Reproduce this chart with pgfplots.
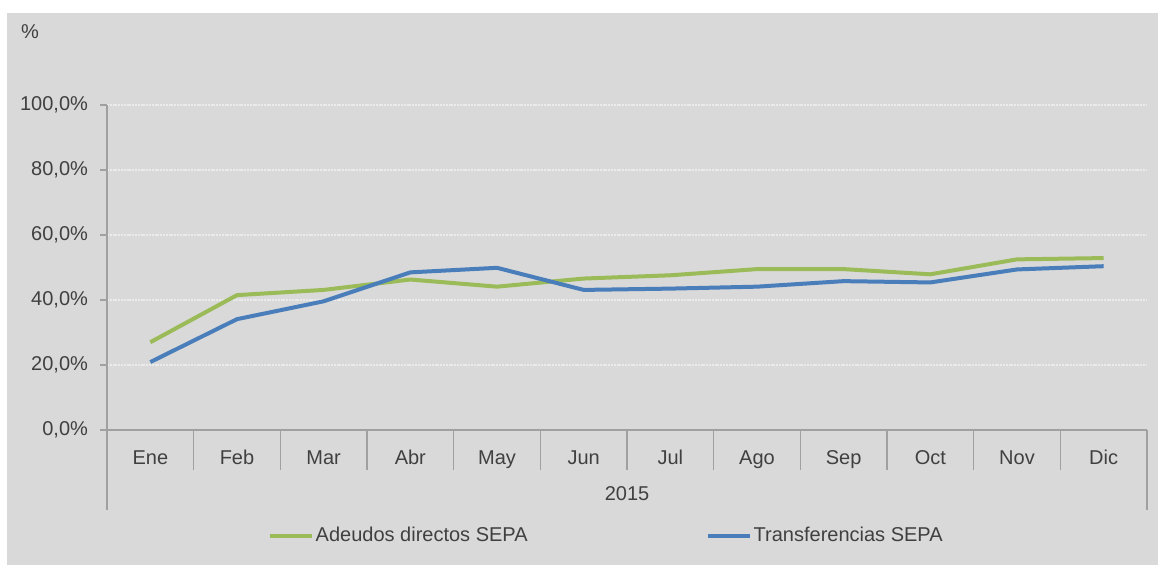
\documentclass[border=0pt]{standalone}
\usepackage{fontspec}
\setmainfont{Liberation Sans}
\usepackage{pgfplots}
\pgfplotsset{compat=1.18}
\definecolor{bg}{HTML}{D9D9D9}
\definecolor{gridc}{HTML}{EBEBEB}
\definecolor{axc}{HTML}{A0A0A0}
\definecolor{txt}{HTML}{404040}
\definecolor{cgreen}{HTML}{9BBB59}
\definecolor{cblue}{HTML}{4A7EBB}
\begin{document}
\begin{tikzpicture}
\path[use as bounding box] (-53.5pt,-70.5pt) rectangle (529pt,215pt);
\fill[white] (-53.5pt,-70.5pt) rectangle (529pt,215pt);
\fill[bg] (-50pt,-67.5pt) rectangle (525.5pt,208.5pt);
\begin{axis}[
  at={(0,0)}, anchor=south west,
  scale only axis, width=520pt, height=162.5pt,
  xmin=-0.5, xmax=11.5, ymin=0, ymax=100,
  axis lines*=left,
  axis line style={draw=axc, line width=0.8pt},
  xtick={0,...,11},
  xticklabels={Ene,Feb,Mar,Abr,May,Jun,Jul,Ago,Sep,Oct,Nov,Dic},
  major x tick style={draw=none},
  xticklabel style={yshift=-2pt, text height=1.6ex, text depth=0.3ex},
  ytick={0,20,...,100},
  yticklabel={\pgfmathprintnumber{\tick}\%},
  yticklabel style={xshift=-2.5pt},
  /pgf/number format/.cd, fixed, fixed zerofill, precision=1, use comma, assume math mode=true,
  /pgfplots/.cd,
  tick align=outside,
  major tick length=3.5pt,
  major y tick style={draw=axc, line width=0.8pt},
  ymajorgrids,
  grid style={draw=gridc, line width=0.8pt, dash pattern=on 1pt off 0.4pt},
  tick label style={text=txt, font=\normalsize},
  legend columns=2,
  legend style={at={(0.48,-0.326)}, anchor=center, draw=none, fill=none,
    text=txt, /tikz/every even column/.append style={column sep=88pt},
    inner sep=0pt, nodes={inner sep=1pt}},
  legend image code/.code={\draw[#1] (0pt,0pt) -- (21pt,0pt);},
]
\addplot[cgreen, line width=2pt] coordinates {
(0,27.0) (1,41.5) (2,43.1) (3,46.3) (4,44.1) (5,46.6) (6,47.6) (7,49.5) (8,49.5) (9,47.9) (10,52.5) (11,52.9)};
\addlegendentry{Adeudos directos SEPA}
\addplot[cblue, line width=2pt] coordinates {
(0,20.9) (1,34.1) (2,39.6) (3,48.5) (4,49.9) (5,43.1) (6,43.5) (7,44.1) (8,45.8) (9,45.4) (10,49.4) (11,50.4)};
\addlegendentry{Transferencias SEPA}
\end{axis}
\foreach \k in {1,...,11} \draw[axc, line width=0.8pt] (\k*43.3333pt,0) -- ++(0,-20pt);
\draw[axc, line width=0.8pt] (0,0) -- (0,-40pt);
\draw[axc, line width=0.8pt] (520pt,0) -- (520pt,-40pt);
\node[text=txt] at (260pt,-32pt) {2015};
\node[text=txt] at (-38.5pt,199pt) {\%};
\end{tikzpicture}
\end{document}
